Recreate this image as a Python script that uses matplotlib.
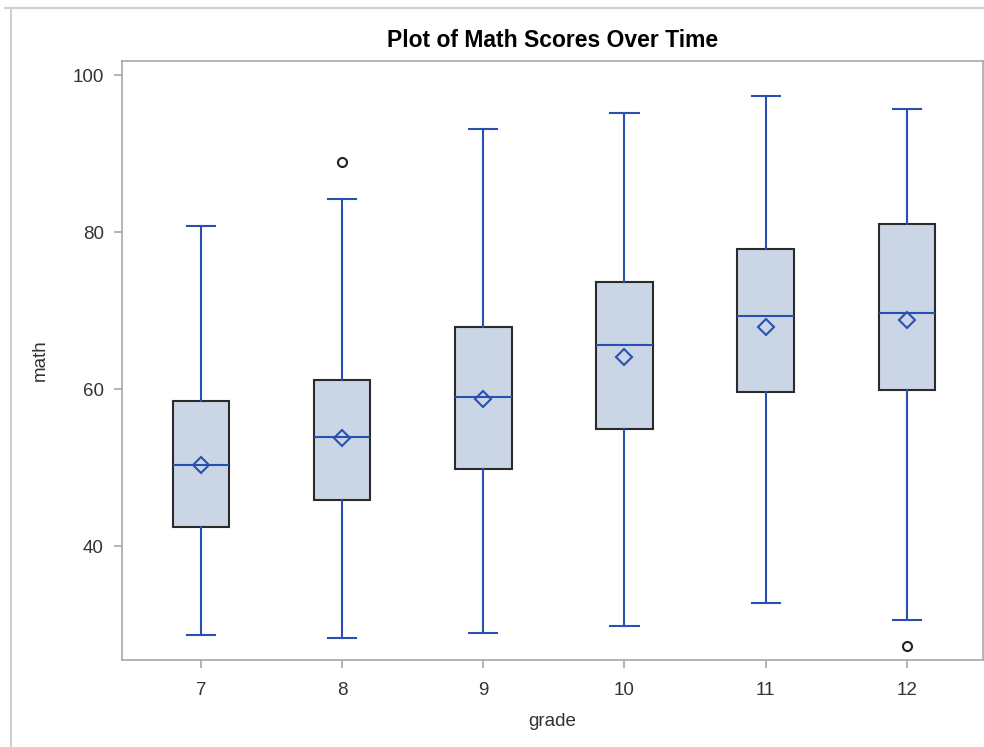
import numpy as np
import matplotlib.pyplot as plt
from matplotlib.lines import Line2D

plt.rcParams['font.family'] = ['Liberation Sans', 'DejaVu Sans']

# box plot summaries per grade
grades = [7, 8, 9, 10, 11, 12]
whislo = [28.7, 28.3, 28.9, 29.8, 32.7, 30.6]
q1 = [42.4, 45.9, 49.8, 54.9, 59.6, 59.9]
med = [50.3, 53.9, 59.0, 65.6, 69.3, 69.7]
mean = [50.3, 53.8, 58.8, 64.1, 67.9, 68.8]
q3 = [58.5, 61.2, 67.9, 73.6, 77.8, 81.0]
whishi = [80.8, 84.2, 93.2, 95.2, 97.3, 95.7]
outliers = [[], [88.9], [], [], [], [27.3]]

blue = '#2850B0'
fill = '#CAD5E5'
spine_col = '#A8A8A8'
text_col = '#333333'

stats = []
for i in range(len(grades)):
    stats.append(dict(med=med[i], q1=q1[i], q3=q3[i], whislo=whislo[i],
                      whishi=whishi[i], mean=mean[i], fliers=outliers[i]))

fig = plt.figure(figsize=(9.84, 7.47), dpi=100)
ax = fig.add_axes([122 / 984, 1 - 660 / 747, 861 / 984, 599 / 747])

ax.bxp(stats, positions=grades, widths=0.4, showmeans=True, patch_artist=True,
       boxprops=dict(facecolor=fill, edgecolor='#2b2b2b', linewidth=1.5),
       medianprops=dict(color=blue, linewidth=1.5),
       whiskerprops=dict(color=blue, linewidth=1.5),
       capprops=dict(color=blue, linewidth=1.5),
       capwidths=0.2,
       meanprops=dict(marker='D', markersize=8.5, markerfacecolor='none',
                      markeredgecolor=blue, markeredgewidth=1.5),
       flierprops=dict(marker='o', markersize=6.5, markerfacecolor='none',
                       markeredgecolor='#222222', markeredgewidth=1.5))

ax.set_xlim(6.44, 12.54)
ax.set_ylim(25.5, 101.8)
ax.set_xticks(grades)
ax.set_xticklabels([str(g) for g in grades])
ax.set_yticks([40, 60, 80, 100])

for s in ax.spines.values():
    s.set_color(spine_col)
    s.set_linewidth(1.2)
ax.tick_params(colors=spine_col, labelcolor=text_col, labelsize=13.5,
               length=6, width=1.2, direction='out')
ax.tick_params(axis='x', pad=10)
ax.tick_params(axis='y', pad=7)

ax.set_xlabel('grade', fontsize=13.5, color=text_col, labelpad=10)
ax.set_ylabel('math', fontsize=13.5, color=text_col, labelpad=17)
ax.set_title('Plot of Math Scores Over Time', fontsize=16.5, fontweight='bold',
             color='black', pad=10)

# thin page frame along top and left edges
fig.add_artist(Line2D([5 / 984, 1], [1 - 8 / 747, 1 - 8 / 747],
                      transform=fig.transFigure, color='#D0D0D0', lw=1.5))
fig.add_artist(Line2D([11 / 984, 11 / 984], [0, 1 - 8 / 747],
                      transform=fig.transFigure, color='#D0D0D0', lw=1.5))

fig.savefig('out.png', dpi=100)
